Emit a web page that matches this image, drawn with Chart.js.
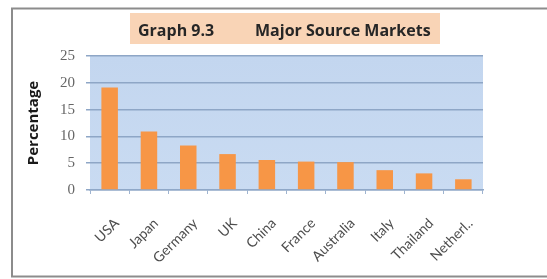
<!DOCTYPE html>
<html><head><meta charset="utf-8">
<script src="https://cdn.jsdelivr.net/npm/chart.js@4.4.1/dist/chart.umd.min.js"></script>
<style>html,body{margin:0;padding:0;background:#fff;}#wrap{width:547px;height:279px;}</style>
</head><body><div id="wrap"><canvas id="c" width="547" height="279"></canvas></div>
<script>
const categories = ["USA","Japan","Germany","UK","China","France","Australia","Italy","Thailand","Netherl.."];
const shares = [19.1, 10.9, 8.3, 6.7, 5.6, 5.3, 5.2, 3.7, 3.1, 2.0];
const yTicks = [0,5,10,15,20,25];
const titleLeft = "Graph 9.3";
const titleRight = "Major Source Markets";
const yTitle = "Percentage";

const decor = {
  id:'decor',
  beforeDraw(chart){
    const ctx = chart.ctx, a = chart.chartArea;
    ctx.save();
    ctx.fillStyle = '#ffffff'; ctx.fillRect(0,0,chart.width,chart.height);
    ctx.strokeStyle = '#8c8c8c'; ctx.lineWidth = 2;
    ctx.strokeRect(12,8.5,chart.width+5,268);
    const g = ctx.createLinearGradient(0,a.top,0,a.bottom);
    g.addColorStop(0,'#c3d6ef'); g.addColorStop(1,'#c9dbf2');
    ctx.fillStyle = g; ctx.fillRect(a.left,a.top,a.right-a.left,a.bottom-a.top);
    // title box
    ctx.fillStyle = '#f9d4b6'; ctx.fillRect(130,13,310,31);
    ctx.fillStyle = '#262626'; ctx.font = 'bold 16px "Open Sans", "Liberation Sans", sans-serif';
    ctx.textAlign = 'left'; ctx.textBaseline = 'alphabetic';
    ctx.fillText(titleLeft, 138, 36);
    ctx.fillText(titleRight, 255, 36);
    ctx.restore();
  }
};

new Chart(document.getElementById('c'), {
  type:'bar',
  data:{labels:categories, datasets:[{data:shares, backgroundColor:'#f79646', barPercentage:0.42, categoryPercentage:1}]},
  options:{
    responsive:false, animation:false,
    layout:{padding:{top:56,right:64,left:25,bottom:0}},
    plugins:{legend:{display:false}, tooltip:{enabled:false}, title:{display:false}},
    scales:{
      x:{
        afterFit(s){ s.height = 89; },
        grid:{display:true, drawOnChartArea:false, offset:true, color:'#9fb4d0', tickLength:4},
        border:{display:true, color:'#8fa8c8', width:1.5},
        ticks:{maxRotation:45, minRotation:45, labelOffset:7, color:'#4d4d4d', font:{family:'Lato, "Liberation Sans", sans-serif', size:14}, padding:21}
      },
      y:{
        min:0, max:25,
        afterBuildTicks(s){ s.ticks = yTicks.map(v=>({value:v})); },
        afterFit(s){ s.width = 65; },
        grid:{color:'#8ea6c6', lineWidth:1.5, drawTicks:true, tickLength:4, tickColor:'#8ea6c6'},
        border:{display:false},
        ticks:{color:'#666666', font:{family:'"Liberation Serif", serif', size:15}, padding:11},
        title:{display:true, text:yTitle, color:'#1a1a1a', font:{family:'"Open Sans", "Liberation Sans", sans-serif', size:15, weight:'bold'}, padding:{top:0,bottom:0}}
      }
    }
  },
  plugins:[decor]
});
</script></body></html>
